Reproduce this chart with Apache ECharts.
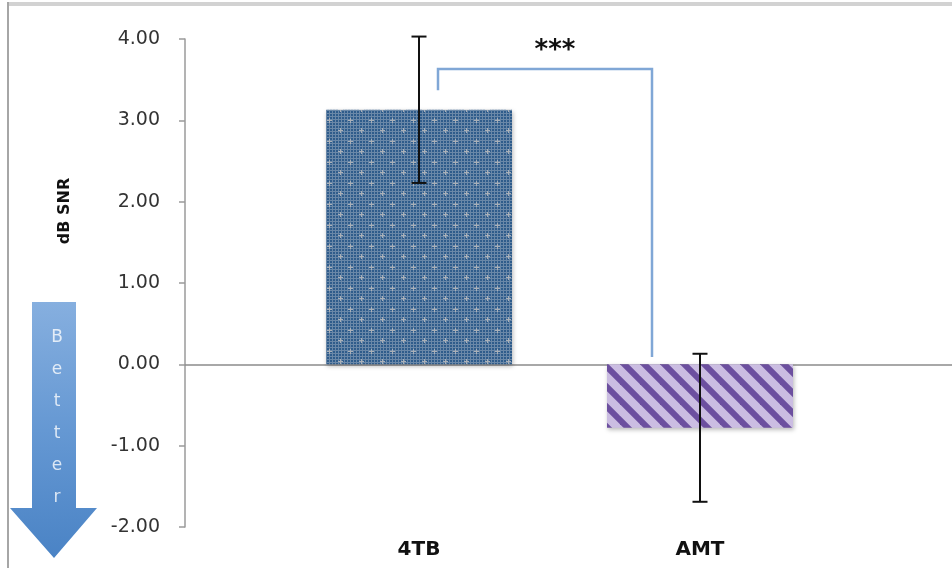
<!DOCTYPE html>
<html>
<head>
<meta charset="utf-8">
<script src="https://cdn.jsdelivr.net/npm/echarts@6/dist/echarts.min.js"></script>
<style>
  html, body { margin: 0; padding: 0; background: #fff; }
  #wrap { position: relative; width: 952px; height: 568px; overflow: hidden; }
  #chart { position: absolute; left: 0; top: 0; width: 952px; height: 568px; }
  .frameTop { position: absolute; left: 7px; top: 2px; width: 945px; height: 4px; background: #d2d2d2; }
  .frameLeft { position: absolute; left: 7px; top: 2px; width: 2px; height: 566px; background: #a6a6a6; }
</style>
</head>
<body>
<div id="wrap">
  <div id="chart"></div>
  <div class="frameTop"></div>
  <div class="frameLeft"></div>
</div>
<script>
// Conditions and their mean dB SNR with error half-widths
const categories = ['4TB', 'AMT'];
const means = [3.13, -0.78];
const errors = [0.90, 0.91];
// Significance bracket between the two conditions (dB SNR levels)
const bracketLevels = { leftFoot: 3.37, top: 3.63, rightFoot: 0.09 };
const significance = '***';
// Value axis range
const yMin = -2, yMax = 4, yStep = 1;

// Dotted blue fill for the first bar
function dotPattern() {
  const c = document.createElement('canvas');
  c.width = 21; c.height = 21;
  const g = c.getContext('2d');
  g.fillStyle = '#6a88a8';
  g.fillRect(0, 0, 21, 21);
  g.fillStyle = '#2f5c8b';
  for (let y = 0; y < 21; y += 3) {
    for (let x = 0; x < 21; x += 3) {
      g.fillRect(x, y, 2, 2);
    }
  }
  g.fillStyle = '#a9b0b8';
  const plus = (px, py) => {
    g.fillRect(px - 2, py, 5, 1);
    g.fillRect(px, py - 2, 1, 5);
  };
  plus(4, 4);
  plus(14, 15);
  return c;
}

// Diagonal purple stripes for the second bar
function stripePattern() {
  const c = document.createElement('canvas');
  c.width = 20; c.height = 20;
  const g = c.getContext('2d');
  g.fillStyle = '#cbbde2';
  g.fillRect(0, 0, 20, 20);
  g.strokeStyle = '#6c4f9f';
  g.lineWidth = 6;
  for (const k of [-20, 0, 20]) {
    g.beginPath();
    g.moveTo(k - 5, -5);
    g.lineTo(k + 25, 25);
    g.stroke();
  }
  return c;
}

const fills = [
  { image: dotPattern(), repeat: 'repeat' },
  { image: stripePattern(), repeat: 'repeat' }
];

const chart = echarts.init(document.getElementById('chart'), null, { renderer: 'canvas' });
const FONT = 'DejaVu Sans';

const option = {
  animation: false,
  backgroundColor: 'transparent',
  grid: [
    { left: 278.5, width: 562, top: 39, bottom: 41 },
    { left: 185, right: 0, top: 39, bottom: 41 }
  ],
  xAxis: [
    {
      gridIndex: 0, type: 'category', data: categories,
      axisLine: { show: false }, axisTick: { show: false }, splitLine: { show: false },
      axisLabel: { margin: 13, fontFamily: FONT, fontSize: 20, fontWeight: 'bold', color: '#111' }
    },
    {
      gridIndex: 1, type: 'value', min: 0, max: 1,
      axisLine: { show: true, onZero: true, lineStyle: { color: '#8c8c8c', width: 1.5 } },
      axisTick: { show: false }, axisLabel: { show: false }, splitLine: { show: false }
    }
  ],
  yAxis: [
    { gridIndex: 0, type: 'value', min: yMin, max: yMax, interval: yStep, show: false },
    {
      gridIndex: 1, type: 'value', min: yMin, max: yMax, interval: yStep,
      axisLine: { show: true, lineStyle: { color: '#9a9a9a', width: 1.5 } },
      axisTick: { show: true, length: 6, lineStyle: { color: '#9a9a9a', width: 1.5 } },
      splitLine: { show: false },
      axisLabel: {
        margin: 25, fontFamily: FONT, fontSize: 19, color: '#333',
        formatter: v => v.toFixed(2)
      },
      name: 'dB SNR', nameLocation: 'middle', nameRotate: 90, nameGap: 112,
      nameTextStyle: { fontFamily: FONT, fontSize: 16, fontWeight: 'bold', color: '#111', padding: [0, 0, 0, 144] }
    }
  ],
  series: [
    {
      type: 'bar', xAxisIndex: 0, yAxisIndex: 0, barWidth: 186,
      data: means.map((v, i) => ({
        value: v,
        itemStyle: {
          color: fills[i],
          shadowBlur: 4, shadowColor: 'rgba(0,0,0,0.28)', shadowOffsetX: 1, shadowOffsetY: 2
        }
      }))
    },
    {
      // error bars
      type: 'custom', xAxisIndex: 0, yAxisIndex: 0, z: 5,
      data: means.map((m, i) => [i, m - errors[i], m + errors[i]]),
      renderItem: (params, api) => {
        const lo = api.coord([api.value(0), api.value(1)]);
        const hi = api.coord([api.value(0), api.value(2)]);
        const half = 7.5;
        const style = { stroke: '#111', lineWidth: 2 };
        return {
          type: 'group',
          children: [
            { type: 'line', shape: { x1: hi[0], y1: hi[1], x2: lo[0], y2: lo[1] }, style },
            { type: 'line', shape: { x1: hi[0] - half, y1: hi[1], x2: hi[0] + half, y2: hi[1] }, style },
            { type: 'line', shape: { x1: lo[0] - half, y1: lo[1], x2: lo[0] + half, y2: lo[1] }, style }
          ]
        };
      }
    },
    {
      // significance bracket
      type: 'custom', xAxisIndex: 0, yAxisIndex: 0, z: 4,
      data: [[0, 1, bracketLevels.leftFoot, bracketLevels.top, bracketLevels.rightFoot]],
      renderItem: (params, api) => {
        const a = api.coord([api.value(0), api.value(2)]);
        const t = api.coord([api.value(0), api.value(3)]);
        const b = api.coord([api.value(1), api.value(4)]);
        const xL = a[0] + 19, xR = b[0] - 48;
        return {
          type: 'group',
          children: [
            {
              type: 'polyline',
              shape: { points: [[xL, a[1]], [xL, t[1]], [xR, t[1]], [xR, b[1]]] },
              style: { stroke: '#80a7d6', lineWidth: 2.5, fill: null }
            },
            {
              type: 'text',
              style: {
                text: significance, x: (xL + xR) / 2 + 10, y: t[1] - 18,
                align: 'center', verticalAlign: 'middle',
                font: 'bold 26px "DejaVu Sans"', fill: '#111'
              }
            }
          ]
        };
      }
    }
  ],
  graphic: [
    {
      type: 'group', left: 10, top: 302,
      children: [
        {
          type: 'polygon',
          shape: { points: [[22, 0], [66, 0], [66, 206], [87, 206], [44, 256], [0, 206], [22, 206]] },
          style: {
            fill: new echarts.graphic.LinearGradient(0, 0, 0, 1, [
              { offset: 0, color: '#86afdf' },
              { offset: 0.5, color: '#6598d3' },
              { offset: 1, color: '#4a83c5' }
            ])
          }
        },
        {
          type: 'text', x: 47, y: 20,
          style: {
            text: 'B\ne\nt\nt\ne\nr', align: 'center', verticalAlign: 'top',
            lineHeight: 32, font: '17px "DejaVu Sans"', fill: 'rgba(255,255,255,0.78)'
          }
        }
      ]
    }
  ]
};

chart.setOption(option);
</script>
</body>
</html>
